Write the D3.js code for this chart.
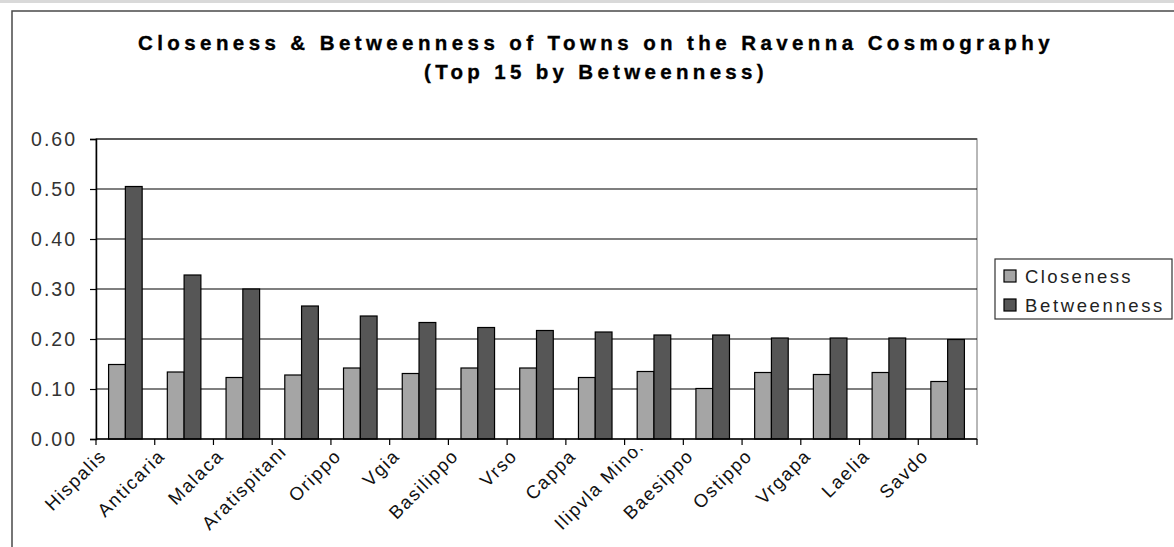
<!DOCTYPE html>
<html>
<head>
<meta charset="utf-8">
<script src="https://cdn.jsdelivr.net/npm/d3@7"></script>
<style>
  body { margin: 0; background: #fff; }
  svg { display: block; font-family: Arial, "Liberation Sans", sans-serif; }
</style>
</head>
<body>
<div id="chart"></div>
<script>
// ------------------------------------------------------------------
//  closeness / betweenness of towns - grouped bar chart
// ------------------------------------------------------------------
const towns = ["Hispalis", "Anticaria", "Malaca", "Aratispitani", "Orippo", "Vgia",
  "Basilippo", "Vrso", "Cappa", "Ilipvla Minor", "Baesippo", "Ostippo", "Vrgapa", "Laelia", "Savdo"]
const closeness = [0.149, 0.134, 0.123, 0.128, 0.142, 0.131, 0.142, 0.142, 0.123, 0.135,
  0.101, 0.133, 0.129, 0.133, 0.115]
const betweenness = [0.505, 0.328, 0.300, 0.266, 0.246, 0.233, 0.223, 0.217, 0.214, 0.208,
  0.208, 0.202, 0.202, 0.202, 0.199]
const series = ["Closeness", "Betweenness"]
const yTicks = [0, 0.1, 0.2, 0.3, 0.4, 0.5, 0.6]
const titleLines = ["Closeness & Betweenness of Towns on the Ravenna Cosmography",
  "(Top 15 by Betweenness)"]

const W = 1174, H = 547
const plot = {left: 96, right: 977, top: 139, bottom: 439}
const colors = {Closeness: "#a5a5a5", Betweenness: "#565656"}

const svg = d3.select("#chart").append("svg")
    .attr("width", W)
    .attr("height", H)

// top strip and chart frame
svg.append("rect").attr("x", 0).attr("y", 0).attr("width", W).attr("height", 3).attr("fill", "#d9d9d9")
svg.append("rect").attr("x", 12).attr("y", 11).attr("width", W + 20).attr("height", H + 20)
    .attr("fill", "none").attr("stroke", "#4a4a4a").attr("stroke-width", 1.5)

// fit a text's width by letter spacing
function spreadTo (sel, target)
{
  const t = sel.node()
  const n = t.textContent.length
  const w = t.getComputedTextLength()
  sel.attr("letter-spacing", ((target - w) / n).toFixed(2))
}

// title
const titleWidths = [916, 344]
titleLines.forEach(function(s, i) {
  const t = svg.append("text")
      .attr("x", 596)
      .attr("y", i === 0 ? 50 : 79)
      .attr("text-anchor", "middle")
      .attr("font-size", 20.5)
      .attr("font-weight", "bold")
      .attr("fill", "#000")
      .attr("stroke", "#000")
      .attr("stroke-width", 0.35)
      .text(s)
  spreadTo(t, titleWidths[i])
})

// scales
const x0 = d3.scaleBand().domain(towns).range([plot.left, plot.right]).paddingInner(0).paddingOuter(0)
const x1 = d3.scaleBand().domain(series).range([0, x0.bandwidth()]).paddingInner(0).paddingOuter(0.75)
const y = d3.scaleLinear().domain([0, 0.6]).range([plot.bottom, plot.top])

// plot area border (grey)
svg.append("rect")
    .attr("x", plot.left).attr("y", plot.top)
    .attr("width", plot.right - plot.left).attr("height", plot.bottom - plot.top)
    .attr("fill", "none").attr("stroke", "#a0a0a0").attr("stroke-width", 1.5)

// gridlines
svg.append("g")
    .selectAll("line")
    .data(yTicks.slice(1))
  .enter().append("line")
    .attr("x1", plot.left).attr("x2", plot.right)
    .attr("y1", function(d) { return y(d) }).attr("y2", function(d) { return y(d) })
    .attr("stroke", "#000").attr("stroke-width", 1.2)

// bars
const rows = towns.map(function(t, i) { return {town: t, Closeness: closeness[i], Betweenness: betweenness[i]} })
svg.append("g")
    .selectAll("g")
    .data(rows)
  .enter().append("g")
    .attr("transform", function(d) { return "translate(" + x0(d.town) + ",0)" })
    .selectAll("rect")
    .data(function(d) { return series.map(function(k) { return {key: k, value: d[k]} }) })
  .enter().append("rect")
    .attr("x", function(d) { return x1(d.key) })
    .attr("y", function(d) { return y(d.value) })
    .attr("width", x1.bandwidth())
    .attr("height", function(d) { return y(0) - y(d.value) })
    .attr("fill", function(d) { return colors[d.key] })
    .attr("stroke", "#000")
    .attr("stroke-width", 1.2)

// y axis
const yAxis = svg.append("g")
    .attr("transform", "translate(" + plot.left + ",0)")
    .call(d3.axisLeft(y).tickValues(yTicks).tickFormat("").tickSize(6))
yAxis.select(".domain").attr("stroke", "#000").attr("stroke-width", 1.5)
yAxis.selectAll(".tick line").attr("stroke", "#000").attr("stroke-width", 1.2)
svg.append("g").selectAll("text")
    .data(yTicks)
  .enter().append("text")
    .attr("x", 77)
    .attr("y", function(d) { return y(d) + 7 })
    .attr("text-anchor", "end")
    .style("font-size", "19.5px")
    .attr("letter-spacing", 2)
    .attr("fill", "#333")
    .text(d3.format(".2f"))

// x axis: ticks on category boundaries
const xAxis = svg.append("g")
    .attr("transform", "translate(0," + plot.bottom + ")")
xAxis.append("line")
    .attr("x1", plot.left).attr("x2", plot.right)
    .attr("stroke", "#000").attr("stroke-width", 1.5)
xAxis.selectAll(".xtick")
    .data(towns.concat([null]))
  .enter().append("line")
    .attr("class", "xtick")
    .attr("x1", function(d) { return d ? x0(d) : plot.right })
    .attr("x2", function(d) { return d ? x0(d) : plot.right })
    .attr("y1", 0).attr("y2", 6)
    .attr("stroke", "#000").attr("stroke-width", 1.2)

// rotated category labels; long ones pushed up and cut by the label band top
const clipTop = 449, startLimit = 531
svg.append("defs").append("clipPath").attr("id", "labelClip")
  .append("rect").attr("x", 0).attr("y", clipTop).attr("width", W).attr("height", H - clipTop)

const k = Math.SQRT1_2
const labelLayer = svg.append("g").attr("clip-path", "url(#labelClip)")
labelLayer.selectAll("text")
    .data(towns)
  .enter().append("text")
    .style("font-size", "18.5px")
    .attr("fill", "#111")
    .attr("letter-spacing", 1.6)
    .attr("text-anchor", "end")
    .text(function(d) { return d })
    .each(function(d) {
      const L = this.getComputedTextLength()
      let px = x0(d) + x0.bandwidth() / 2 - 18
      let py = plot.bottom + 18
      const over = (py + L * k) - startLimit
      if (over > 0) { px += over; py -= over }
      d3.select(this).attr("transform", "translate(" + px + "," + py + ") rotate(-45)")
    })

// legend
const lg = svg.append("g")
lg.append("rect")
    .attr("x", 995).attr("y", 259).attr("width", 177).attr("height", 60)
    .attr("fill", "#fff").attr("stroke", "#333").attr("stroke-width", 1.2)
series.forEach(function(s, i) {
  const cy = 276 + i * 29
  lg.append("rect")
      .attr("x", 1004).attr("y", cy - 6).attr("width", 12).attr("height", 12)
      .attr("fill", colors[s]).attr("stroke", "#000").attr("stroke-width", 1.2)
  const t = lg.append("text")
      .attr("x", 1025).attr("y", cy + 6.5)
      .style("font-size", "18.5px")
      .attr("fill", "#222")
      .text(s)
  if (s === "Betweenness") spreadTo(t, 140)
  else t.attr("letter-spacing", 2.4)
})
</script>
</body>
</html>
